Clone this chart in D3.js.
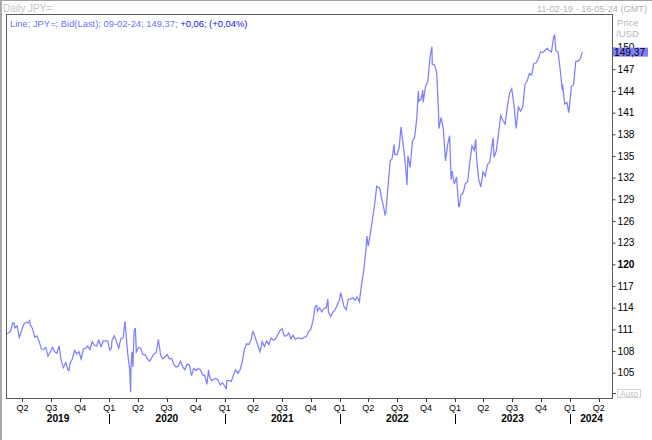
<!DOCTYPE html>
<html><head><meta charset="utf-8">
<script src="https://cdn.jsdelivr.net/npm/d3@7"></script>
<style>
body{margin:0;background:#fff}
svg{display:block}
text{font-family:"Liberation Sans",Arial,sans-serif}
</style>
</head><body>
<script>
// ---- data (USD/JPY daily bid) ----
const dates = [
"2019-02-11","2019-02-15","2019-02-22","2019-03-01","2019-03-05","2019-03-08","2019-03-15","2019-03-22","2019-03-29","2019-04-05","2019-04-12","2019-04-19","2019-04-24","2019-04-26","2019-05-03","2019-05-10","2019-05-17","2019-05-24","2019-05-31","2019-06-07","2019-06-14","2019-06-21","2019-06-28","2019-07-05","2019-07-12","2019-07-19","2019-07-26","2019-08-02","2019-08-09","2019-08-16","2019-08-23","2019-08-26","2019-08-30","2019-09-06","2019-09-13","2019-09-20","2019-09-27","2019-10-04","2019-10-11","2019-10-18","2019-10-25","2019-11-01","2019-11-08","2019-11-15","2019-11-22","2019-11-29","2019-12-06","2019-12-13","2019-12-20","2019-12-27",
"2020-01-03","2020-01-08","2020-01-10","2020-01-17","2020-01-24","2020-01-31","2020-02-07","2020-02-14","2020-02-20","2020-02-21","2020-02-28","2020-03-06","2020-03-09","2020-03-10","2020-03-13","2020-03-16","2020-03-20","2020-03-24","2020-03-27","2020-04-03","2020-04-10","2020-04-17","2020-04-24","2020-05-01","2020-05-08","2020-05-15","2020-05-22","2020-05-29","2020-06-05","2020-06-12","2020-06-19","2020-06-26","2020-07-03","2020-07-10","2020-07-17","2020-07-24","2020-07-31","2020-08-07","2020-08-14","2020-08-21","2020-08-28","2020-09-04","2020-09-11","2020-09-18","2020-09-25","2020-10-02","2020-10-09","2020-10-16","2020-10-23","2020-10-30","2020-11-06","2020-11-11","2020-11-13","2020-11-20","2020-11-27","2020-12-04","2020-12-11","2020-12-18","2020-12-25",
"2021-01-01","2021-01-06","2021-01-08","2021-01-15","2021-01-22","2021-01-29","2021-02-05","2021-02-12","2021-02-19","2021-02-26","2021-03-05","2021-03-12","2021-03-19","2021-03-26","2021-03-31","2021-04-02","2021-04-09","2021-04-16","2021-04-23","2021-04-30","2021-05-07","2021-05-14","2021-05-21","2021-05-28","2021-06-04","2021-06-11","2021-06-18","2021-06-25","2021-07-02","2021-07-09","2021-07-16","2021-07-23","2021-07-30","2021-08-06","2021-08-13","2021-08-20","2021-08-27","2021-09-03","2021-09-10","2021-09-17","2021-09-24","2021-10-01","2021-10-08","2021-10-15","2021-10-20","2021-10-22","2021-10-29","2021-11-05","2021-11-12","2021-11-19","2021-11-24","2021-11-26","2021-12-03","2021-12-10","2021-12-17","2021-12-24","2021-12-31",
"2022-01-04","2022-01-07","2022-01-14","2022-01-21","2022-01-28","2022-02-04","2022-02-11","2022-02-18","2022-02-25","2022-03-04","2022-03-11","2022-03-18","2022-03-25","2022-03-28","2022-04-01","2022-04-08","2022-04-15","2022-04-22","2022-04-28","2022-05-06","2022-05-09","2022-05-13","2022-05-20","2022-05-24","2022-05-27","2022-06-03","2022-06-10","2022-06-15","2022-06-17","2022-06-22","2022-06-24","2022-07-01","2022-07-08","2022-07-14","2022-07-22","2022-07-29","2022-08-02","2022-08-05","2022-08-12","2022-08-19","2022-08-26","2022-09-02","2022-09-07","2022-09-09","2022-09-16","2022-09-21","2022-09-22","2022-09-30","2022-10-07","2022-10-14","2022-10-20","2022-10-21","2022-10-28","2022-11-04","2022-11-10","2022-11-11","2022-11-18","2022-11-25","2022-12-02","2022-12-09","2022-12-15","2022-12-16","2022-12-20","2022-12-23","2022-12-30",
"2023-01-06","2023-01-13","2023-01-16","2023-01-20","2023-01-27","2023-02-03","2023-02-10","2023-02-17","2023-02-24","2023-03-03","2023-03-08","2023-03-10","2023-03-17","2023-03-24","2023-03-31","2023-04-07","2023-04-14","2023-04-21","2023-04-28","2023-05-02","2023-05-05","2023-05-12","2023-05-19","2023-05-26","2023-06-02","2023-06-09","2023-06-16","2023-06-23","2023-06-30","2023-07-07","2023-07-14","2023-07-21","2023-07-28","2023-08-04","2023-08-11","2023-08-18","2023-08-25","2023-09-01","2023-09-08","2023-09-15","2023-09-22","2023-09-29","2023-10-06","2023-10-13","2023-10-20","2023-10-27","2023-11-03","2023-11-10","2023-11-13","2023-11-17","2023-11-24","2023-12-01","2023-12-07","2023-12-08","2023-12-15","2023-12-22","2023-12-28",
"2024-01-05","2024-01-12","2024-01-19","2024-01-26","2024-02-02","2024-02-09"
];
const values = [
110.4,110.5,110.7,111.9,111.9,111.2,111.5,109.9,110.8,111.7,112.0,111.9,112.2,111.6,111.1,109.9,110.1,109.3,108.3,108.2,108.5,107.3,107.9,108.5,107.9,107.7,108.7,106.6,105.7,106.4,105.4,105.3,106.3,106.9,108.1,107.6,107.9,106.9,108.3,108.4,108.7,108.2,109.3,108.8,108.7,109.5,108.6,109.4,109.4,109.4,
108.1,108.4,109.5,110.1,109.3,108.4,109.7,109.8,112.1,111.6,107.9,105.4,102.3,105.6,107.9,105.8,110.8,111.2,107.9,108.5,108.4,107.5,107.5,106.9,106.6,107.1,107.6,107.8,109.6,107.4,106.9,107.2,107.5,106.9,107.0,106.1,105.8,105.9,106.6,105.8,105.4,106.2,106.1,104.6,105.6,105.3,105.6,105.4,104.7,104.6,103.4,105.4,104.6,103.9,104.1,104.2,104.0,103.3,103.6,
103.2,102.7,103.9,103.9,103.8,104.7,105.4,104.9,105.4,106.6,108.3,109.0,108.9,109.6,110.7,110.6,109.7,108.8,107.9,109.3,108.6,109.4,108.9,109.8,109.5,109.7,110.2,110.8,111.1,110.1,110.1,110.5,109.7,110.2,109.6,109.8,109.8,109.7,109.9,110.0,110.7,111.0,112.2,114.2,114.3,113.5,114.0,113.4,113.9,114.0,115.2,113.4,112.8,113.4,113.7,114.4,115.1,
116.1,115.5,114.2,113.7,115.2,115.2,115.4,115.0,115.5,114.8,117.3,119.2,122.1,123.9,122.5,124.3,126.4,128.5,130.8,130.6,130.3,129.2,127.9,126.9,127.1,130.9,134.4,134.5,135.0,136.6,135.2,135.2,136.1,139.0,136.1,133.3,131.0,135.0,133.4,137.0,137.5,140.2,144.0,142.6,142.9,144.1,142.4,144.7,145.3,148.7,150.1,147.7,147.6,146.6,141.0,138.8,140.3,138.8,134.3,136.6,137.8,136.6,131.7,132.9,131.1,
132.1,127.9,128.2,129.6,129.9,131.2,131.4,134.1,136.4,135.8,137.3,135.0,131.8,130.7,132.8,132.2,133.8,134.1,136.3,137.5,134.8,135.7,138.0,140.6,139.9,139.4,141.8,143.7,144.3,142.1,138.8,141.8,141.2,141.8,144.9,145.4,146.4,146.2,147.8,147.9,148.4,149.4,149.3,149.6,149.9,149.6,149.4,151.5,151.7,149.6,149.4,146.8,144.1,144.9,142.2,142.4,141.0,
144.6,144.9,148.1,148.1,148.4,149.37
];
const yTickValues = [105,108,111,114,117,120,123,126,129,132,135,138,141,144,147,150];
const boldTick = 120;
const xDomain = ["2019-02-11","2024-05-16"];
const yDomain = [101.36,154.65];
const years = [2019,2020,2021,2022,2023,2024];
const lastLabel = "149,37";
const titleText = "Daily JPY=";
const rangeText = "11-02-19 - 16-05-24 (GMT)";
const legendMain = "Line; JPY=; Bid(Last); 09-02-24; 149,37; ";
const legendChange = "+0,06; (+0,04%)";

// ---- layout ----
const W = 652, H = 440;
const L = 6, R = 613, T = 14, B = 399;
const parse = d3.utcParse("%Y-%m-%d");
const data = dates.map((d,i)=>({date:parse(d), value:values[i]}));

const x = d3.scaleUtc().domain(xDomain.map(parse)).range([L+1, R]);
const y = d3.scaleLinear().domain(yDomain).range([B, T]);

const svg = d3.select("body").append("svg").attr("width",W).attr("height",H);

// outer window edges
svg.append("rect").attr("x",0).attr("y",0).attr("width",W).attr("height",1).attr("fill","#a0a0a0");
svg.append("rect").attr("x",0).attr("y",0).attr("width",2).attr("height",H).attr("fill","#a8a8a8");

// title & range
svg.append("text").attr("x",3).attr("y",12).attr("font-size",10).attr("fill","#c4c4c4").text(titleText);
svg.append("text").attr("x",647).attr("y",12).attr("text-anchor","end").attr("font-size",9.2).attr("fill","#b4b4b4").text(rangeText);
svg.append("text").attr("x",617).attr("y",26).attr("font-size",9.6).attr("fill","#b8b8b8").text("Price");
svg.append("text").attr("x",616).attr("y",37).attr("font-size",9.6).attr("fill","#b8b8b8").text("/USD");

// line
svg.append("clipPath").attr("id","pc").append("rect").attr("x",L).attr("y",T).attr("width",R-L).attr("height",B-T);
svg.append("path").datum(data)
  .attr("clip-path","url(#pc)")
  .attr("fill","none").attr("stroke","#7f7fff").attr("stroke-width",1.25)
  .attr("d", d3.line().x(d=>x(d.date)).y(d=>y(d.value)));

// frame
svg.append("rect").attr("x",L+0.5).attr("y",T+0.5).attr("width",R-L-1).attr("height",B-T-1)
  .attr("fill","none").attr("stroke","#5a5a5a").attr("stroke-width",1).attr("shape-rendering","crispEdges");

// legend (one text, two colours)
const lg = svg.append("text").attr("x",10).attr("y",26.5).attr("font-size",9.4).attr("xml:space","preserve");
lg.append("tspan").attr("fill","#7070ff").text(legendMain);
lg.append("tspan").attr("fill","#1010e8").text(legendChange);

// y axis (right)
const yAxis = d3.axisRight(y).tickValues(yTickValues).tickSize(3).tickPadding(2).tickFormat(d3.format("d"));
const ya = svg.append("g").attr("transform",`translate(${R-0.5},0)`).call(yAxis);
ya.select(".domain").remove();
ya.selectAll(".tick line").attr("stroke","#444");
ya.selectAll(".tick text").attr("font-family","Liberation Sans").attr("font-size",10.2).attr("fill","#000")
  .attr("font-weight",d=>d===boldTick?"bold":"normal");

// last value label
const ly = y(values[values.length-1]);
svg.append("rect").attr("x",R).attr("y",ly-4.5).attr("width",35).attr("height",9).attr("fill","#8080ff");
svg.append("text").attr("x",R+1).attr("y",ly+3.7).attr("font-size",10.2).attr("fill","#000").text(lastLabel);

// Auto box
svg.append("line").attr("x1",R).attr("x2",R+3).attr("y1",393.5).attr("y2",393.5).attr("stroke","#444");
svg.append("rect").attr("x",617.5).attr("y",389.5).attr("width",23).attr("height",8).attr("fill","#fff").attr("stroke","#d4d4d4");
svg.append("text").attr("x",620).attr("y",396.5).attr("font-size",8.8).attr("fill","#c0c0c0").text("Auto");

// x axis quarters
const quarters = d3.utcMonth.every(3).range(parse("2019-04-01"), parse("2024-05-01"));
const xa = svg.append("g");
xa.selectAll("line.qt").data(quarters).join("line").attr("class","qt")
  .attr("x1",d=>Math.round(x(d))+0.5).attr("x2",d=>Math.round(x(d))+0.5)
  .attr("y1",B).attr("y2",B+3).attr("stroke","#333");
xa.selectAll("text.ql").data(quarters).join("text").attr("class","ql")
  .attr("x",d=>x(d)).attr("y",411).attr("text-anchor","middle").attr("font-size",9).attr("fill","#000")
  .text(d=>"Q"+(Math.floor(d.getUTCMonth()/3)+1));

// year labels centered on visible part of each year
const [d0,d1] = x.domain();
xa.selectAll("text.yl").data(years).join("text").attr("class","yl")
  .attr("x",yr=>{
    const a = new Date(Math.max(Date.UTC(yr,0,1), d0));
    const b = new Date(Math.min(Date.UTC(yr+1,0,1), d1));
    return (x(a)+x(b))/2;
  })
  .attr("y",422).attr("text-anchor","middle").attr("font-size",10.2).attr("font-weight","bold").attr("fill","#000")
  .text(yr=>yr);
xa.selectAll("line.ys").data(years.slice(1)).join("line").attr("class","ys")
  .attr("x1",yr=>Math.round(x(Date.UTC(yr,0,1)))+0.5).attr("x2",yr=>Math.round(x(Date.UTC(yr,0,1)))+0.5)
  .attr("y1",414).attr("y2",424).attr("stroke","#000");
</script>
</body></html>
